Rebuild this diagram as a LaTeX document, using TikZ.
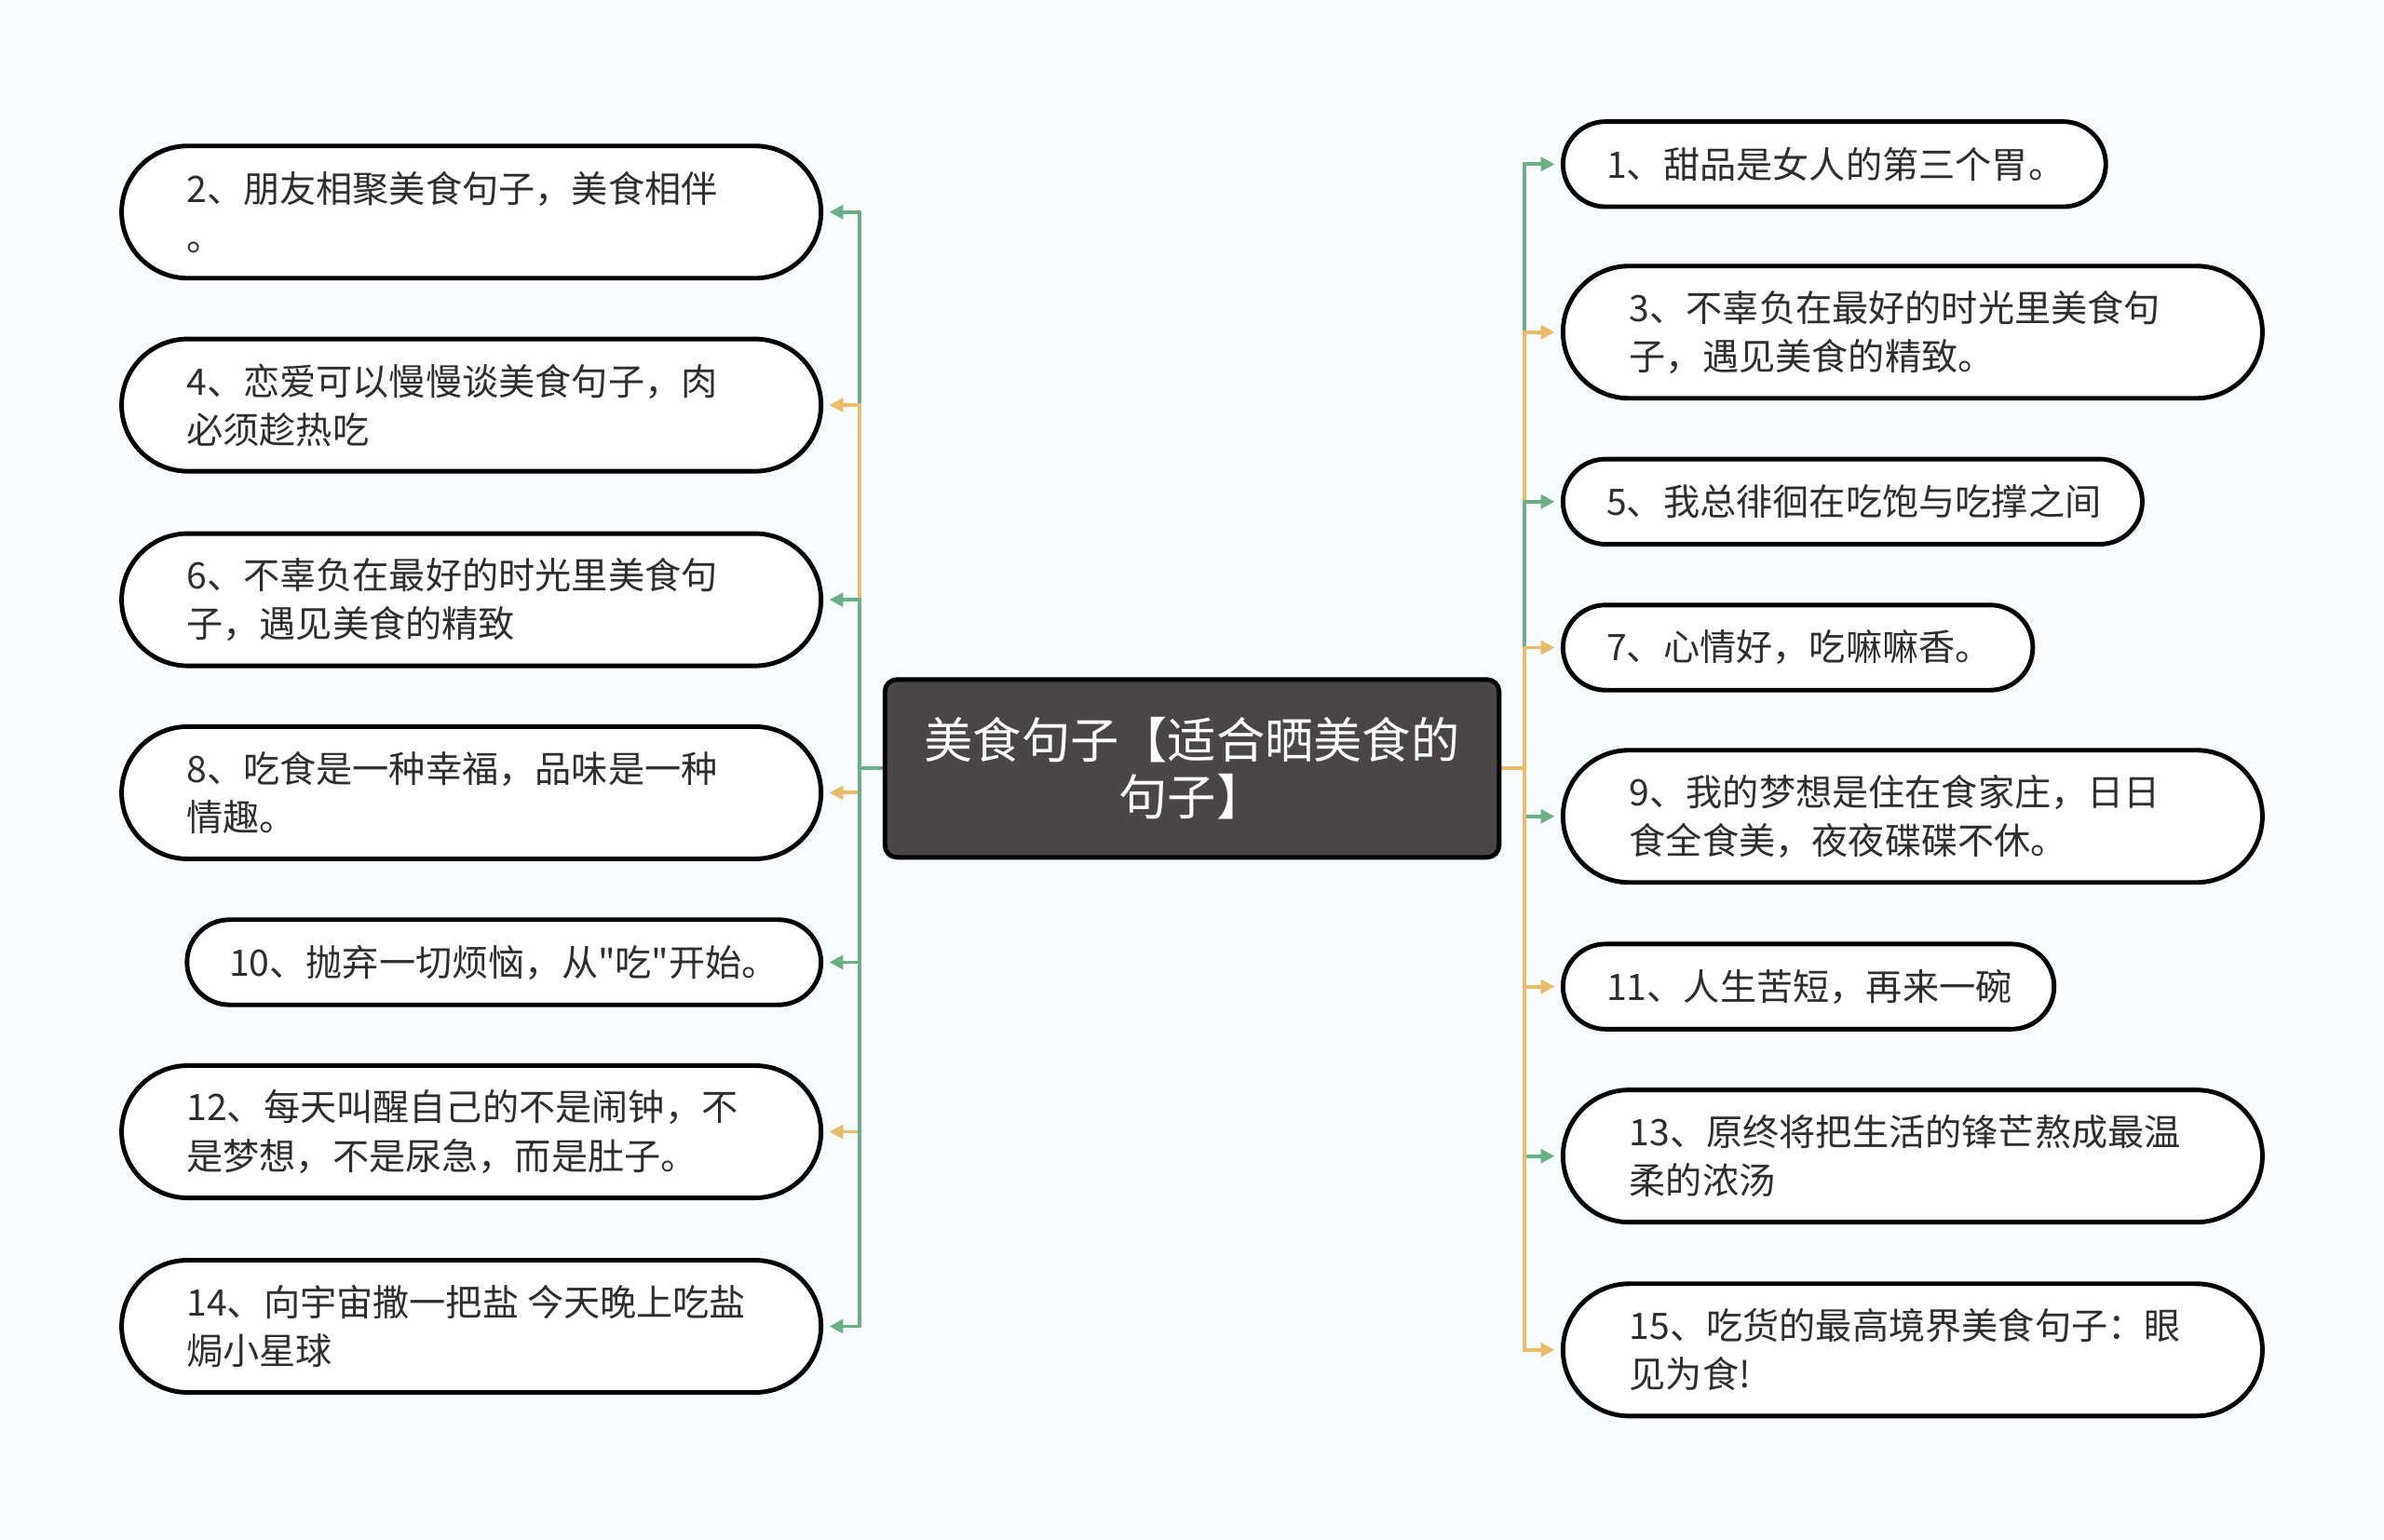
\documentclass[tikz,border=0pt]{standalone}
\usepackage{fontspec}
\setmainfont{Noto Sans CJK SC}[Ligatures=TeXOff]
\usetikzlibrary{arrows.meta,backgrounds}
\definecolor{bgc}{HTML}{F8FCFE}
\definecolor{cgreen}{HTML}{6BAF85}
\definecolor{corange}{HTML}{EBBB68}
\definecolor{boxfill}{HTML}{4B4646}
\definecolor{txt}{HTML}{2E2E2E}
\tikzset{
  pill/.style={draw=black, line width=3pt, fill=white, inner sep=0pt},
  ptext/.style={inner sep=0pt, align=left, text=txt, font=\fontsize{24}{32}\selectfont},
  centerbox/.style={draw=black, line width=3pt, fill=boxfill, rounded corners=8pt,
    minimum width=404pt, minimum height=117pt, align=center, text=white,
    font=\fontsize{32}{37}\selectfont, inner sep=0pt},
  conn/.style={line width=2.4pt, -{Triangle[length=9pt,width=9pt]}, shorten >=4pt},
  gconn/.style={conn, draw=cgreen, color=cgreen},
  oconn/.style={conn, draw=corange, color=corange}
}
\newcommand\mypill[7]{%
  \node[pill, minimum width=#4pt, minimum height=#5pt, rounded corners=#5pt/2] (#1) at (#2,#3) {};
  \node[ptext, anchor=west] (#1t) at ([xshift=#6pt]#1.west) {#7};
}
\begin{document}
\begin{tikzpicture}[x=1pt,y=-1pt]
\node[centerbox] (c) at (784,505.5) {美食句子【适合晒美食的\\句子】};
% left
\mypill{n2}{310}{139.5}{460}{87}{44}{2、朋友相聚美食句子，美食相伴\\。}
\mypill{n4}{310}{266.5}{460}{87}{44}{4、恋爱可以慢慢谈美食句子，肉\\必须趁热吃}
\mypill{n6}{310}{394.5}{460}{87}{44}{6、不辜负在最好的时光里美食句\\子，遇见美食的精致}
\mypill{n8}{310}{521.5}{460}{87}{44}{8、吃食是一种幸福，品味是一种\\情趣。}
\mypill{n10}{331.5}{633}{417}{56}{29}{10、抛弃一切烦恼，从"吃"开始。}
\mypill{n12}{310}{744.5}{460}{87}{44}{12、每天叫醒自己的不是闹钟，不\\是梦想，不是尿急，而是肚子。}
\mypill{n14}{310}{872.5}{460}{87}{44}{14、向宇宙撒一把盐 今天晚上吃盐\\焗小星球}
% right
\mypill{n1}{1206.5}{108}{357}{56}{30}{1、甜品是女人的第三个胃。}
\mypill{n3}{1258}{218.5}{460}{87}{45}{3、不辜负在最好的时光里美食句\\子，遇见美食的精致。}
\mypill{n5}{1218.5}{330}{381}{56}{30}{5、我总徘徊在吃饱与吃撑之间}
\mypill{n7}{1182.5}{426}{309}{56}{30}{7、心情好，吃嘛嘛香。}
\mypill{n9}{1258}{537}{460}{87}{45}{9、我的梦想是住在食家庄，日日\\食全食美，夜夜碟碟不休。}
\mypill{n11}{1189.5}{649}{323}{56}{30}{11、人生苦短，再来一碗}
\mypill{n13}{1258}{760.5}{460}{87}{45}{13、原终将把生活的锋芒熬成最温\\柔的浓汤}
\mypill{n15}{1258}{888}{460}{87}{45}{15、吃货的最高境界美食句子：眼\\见为食!}
\begin{pgfonlayer}{background}
\fill[bgc] (0,0) rectangle (1568,1012.5);
\draw[gconn] (c.west) -- ++(-15,0) |- (n2.east);
\draw[oconn] (c.west) -- ++(-15,0) |- (n4.east);
\draw[gconn] (c.west) -- ++(-15,0) |- (n6.east);
\draw[oconn] (c.west) -- ++(-15,0) |- (n8.east);
\draw[gconn] (c.west) -- ++(-15,0) |- (n10.east);
\draw[oconn] (c.west) -- ++(-15,0) |- (n12.east);
\draw[gconn] (c.west) -- ++(-15,0) |- (n14.east);
\draw[gconn] (c.east) -- ++(15,0) |- (n1.west);
\draw[oconn] (c.east) -- ++(15,0) |- (n3.west);
\draw[gconn] (c.east) -- ++(15,0) |- (n5.west);
\draw[oconn] (c.east) -- ++(15,0) |- (n7.west);
\draw[gconn] (c.east) -- ++(15,0) |- (n9.west);
\draw[oconn] (c.east) -- ++(15,0) |- (n11.west);
\draw[gconn] (c.east) -- ++(15,0) |- (n13.west);
\draw[oconn] (c.east) -- ++(15,0) |- (n15.west);
\end{pgfonlayer}
\end{tikzpicture}
\end{document}
